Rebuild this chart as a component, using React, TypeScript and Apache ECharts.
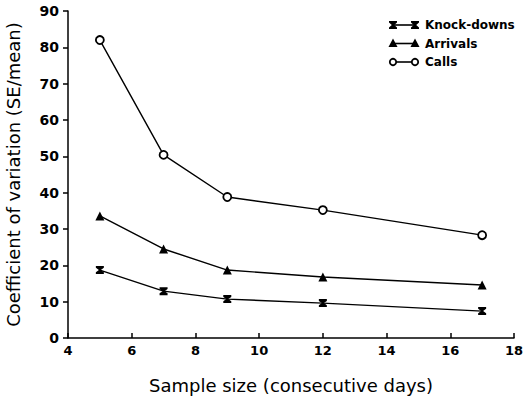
import React, { useEffect, useRef } from "react";
import * as echarts from "echarts";

const sampleSizes = [5, 7, 9, 12, 17];
const knockDowns = [18.7, 12.9, 10.7, 9.6, 7.4];
const arrivals = [33.6, 24.5, 18.7, 16.8, 14.6];
const calls = [82, 50.4, 38.8, 35.2, 28.3];
const seriesNames = ["Knock-downs", "Arrivals", "Calls"];

const FONT = "DejaVu Sans";
const KD_SYMBOL = "path://M0,0H10V2.2L6.2,5L10,7.8V10H0V7.8L3.8,5L0,2.2Z";

function pairs(vals: number[]) {
  return sampleSizes.map((x, i) => [x, vals[i]]);
}

function legendItem(row: number, kind: string, label: string): any[] {
  const y = 25 + row * 18.5;
  const x1 = 393;
  const x2 = 415;
  const els: any[] = [
    { type: "line", shape: { x1, y1: y, x2, y2: y }, style: { stroke: "#000", lineWidth: 1.6 } },
  ];
  for (const cx of [x1, x2]) {
    if (kind === "kd") {
      els.push({
        type: "polygon",
        shape: { points: [[cx - 4, y - 4], [cx + 4, y - 4], [cx + 4, y - 2.5], [cx + 1.2, y], [cx + 4, y + 2.5], [cx + 4, y + 4], [cx - 4, y + 4], [cx - 4, y + 2.5], [cx - 1.2, y], [cx - 4, y - 2.5]] },
        style: { fill: "#000" },
      });
    } else if (kind === "tri") {
      els.push({
        type: "polygon",
        shape: { points: [[cx, y - 5], [cx + 4.5, y + 3.5], [cx - 4.5, y + 3.5]] },
        style: { fill: "#000" },
      });
    } else {
      els.push({
        type: "circle",
        shape: { cx, cy: y, r: 3.2 },
        style: { fill: "#fff", stroke: "#000", lineWidth: 1.8 },
      });
    }
  }
  els.push({
    type: "text",
    x: 425,
    y,
    style: { text: label, fill: "#000", font: `bold 12px "${FONT}"`, verticalAlign: "middle", align: "left" },
  });
  return els;
}

export default function App() {
  const ref = useRef<HTMLDivElement>(null);
  useEffect(() => {
    if (!ref.current) return;
    const chart = echarts.init(ref.current, null, { renderer: "svg" });
    const lineStyle = { color: "#000", width: 1.4 };
    chart.setOption({
      animation: false,
      backgroundColor: "#fff",
      grid: { left: 68, right: 10, top: 11, bottom: 58, containLabel: false, outerBoundsMode: "none" },
      xAxis: {
        type: "value",
        min: 4,
        max: 18,
        interval: 2,
        name: "Sample size (consecutive days)",
        nameLocation: "middle",
        nameGap: 38,
        nameTextStyle: { fontFamily: FONT, fontSize: 18, color: "#000" },
        axisLine: { lineStyle: { color: "#000", width: 1.5 } },
        axisTick: { inside: true, length: 5, lineStyle: { color: "#000", width: 1.5 } },
        axisLabel: { fontFamily: FONT, fontWeight: "bold", fontSize: 13, color: "#000", margin: 6 },
        splitLine: { show: false },
      },
      yAxis: {
        type: "value",
        min: 0,
        max: 90,
        interval: 10,
        name: "Coefficient of variation (SE/mean)",
        nameLocation: "middle",
        nameGap: 46,
        nameTextStyle: { fontFamily: FONT, fontSize: 18, color: "#000" },
        axisLine: { lineStyle: { color: "#000", width: 1.5 } },
        axisTick: { length: 5, lineStyle: { color: "#000", width: 1.5 } },
        axisLabel: { fontFamily: FONT, fontWeight: "bold", fontSize: 14, color: "#000", margin: 9 },
        splitLine: { show: false },
      },
      series: [
        {
          name: seriesNames[0],
          type: "line",
          data: pairs(knockDowns),
          symbol: KD_SYMBOL,
          symbolSize: 8,
          itemStyle: { color: "#000" },
          lineStyle,
        },
        {
          name: seriesNames[1],
          type: "line",
          data: pairs(arrivals),
          symbol: "triangle",
          symbolSize: 9,
          itemStyle: { color: "#000" },
          lineStyle,
        },
        {
          name: seriesNames[2],
          type: "line",
          data: pairs(calls),
          symbol: "circle",
          symbolSize: 8,
          itemStyle: { color: "#fff", borderColor: "#000", borderWidth: 1.8 },
          lineStyle,
        },
      ],
      graphic: [
        ...legendItem(0, "kd", seriesNames[0]),
        ...legendItem(1, "tri", seriesNames[1]),
        ...legendItem(2, "circ", seriesNames[2]),
      ],
    });
    return () => chart.dispose();
  }, []);
  return (
    <div
      ref={ref}
      style={{ position: "fixed", left: 0, top: 0, width: 524, height: 396, background: "#fff" }}
    />
  );
}
